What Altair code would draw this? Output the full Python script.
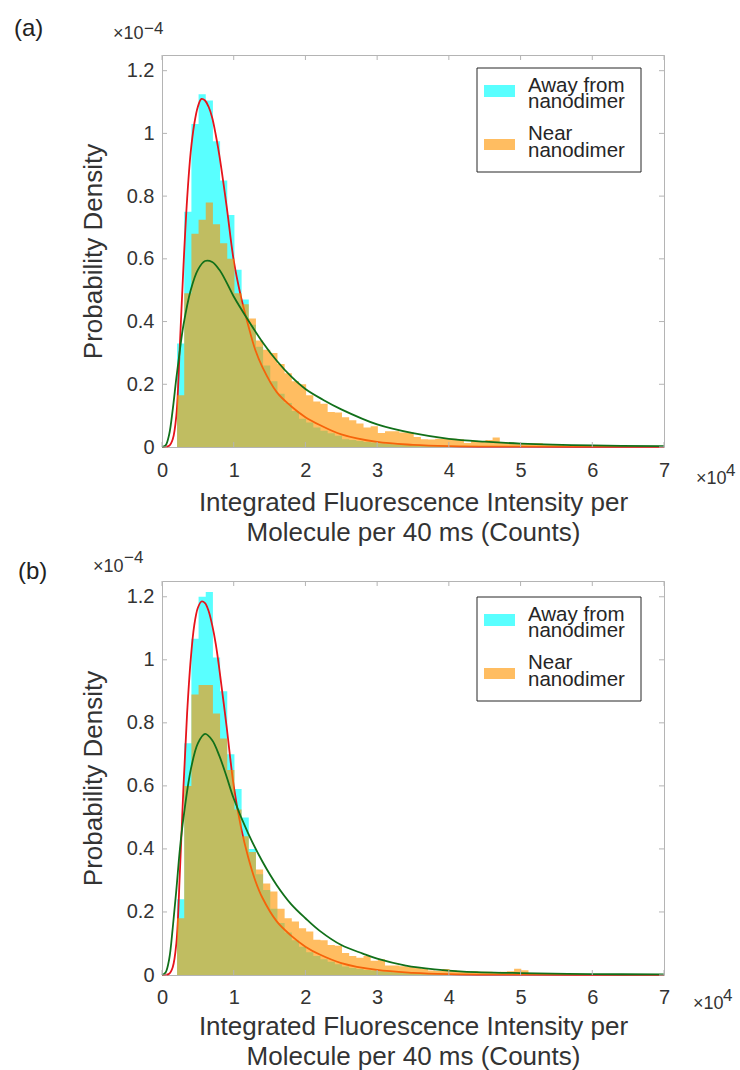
import altair as alt
import pandas as pd

FONT = "Liberation Sans"
TXT = "#333333"
BOX = "#b4b4b4"
CYAN = "#00FFFF"
ORANGE = "#FF9400"
RED = "#E6141B"
GREEN = "#11701A"

# ---------------- data (probability density in units of 1e-4) ----------------
bin_start = [2100 + 1000 * k for k in range(68)]   # histogram bin left edges (counts)
x_end = 70000

away_a = [0.33, 0.75, 1.03, 1.125, 1.105, 0.975, 0.85, 0.74, 0.565, 0.47,
          0.39, 0.32, 0.26, 0.21, 0.17, 0.14, 0.115, 0.09, 0.078, 0.062,
          0.052, 0.044, 0.036, 0.025, 0.022, 0.019, 0.016, 0.014, 0.012, 0.010,
          0.009, 0.008, 0.007, 0.006, 0.005, 0.005, 0.004, 0.004, 0.003, 0.003,
          0.003, 0.002, 0.002, 0.002, 0.002, 0.002, 0.001, 0.001, 0.001, 0.001,
          0.001, 0.001, 0.001, 0.001, 0.001, 0.001, 0.001, 0.001, 0.001, 0.001,
          0.0005, 0.0005, 0.0005, 0.0005, 0.0005, 0.0005, 0.0005, 0.0005]
near_a = [0.165, 0.49, 0.68, 0.725, 0.78, 0.71, 0.65, 0.60, 0.49, 0.455,
          0.41, 0.34, 0.31, 0.30, 0.265, 0.235, 0.21, 0.20, 0.165, 0.145,
          0.138, 0.112, 0.11, 0.095, 0.085, 0.075, 0.062, 0.066, 0.045, 0.05,
          0.05, 0.046, 0.046, 0.032, 0.025, 0.024, 0.026, 0.026, 0.026, 0.025,
          0.013, 0.02, 0.018, 0.022, 0.03, 0.014, 0.014, 0.013, 0.013, 0.012,
          0.012, 0.008, 0.006, 0.006, 0.005, 0.006, 0.005, 0.004, 0.004, 0.004,
          0.003, 0.004, 0.003, 0.003, 0.002, 0.003, 0.002, 0.002]
away_b = [0.24, 0.735, 1.067, 1.20, 1.215, 1.007, 0.90, 0.70, 0.59, 0.50,
          0.40, 0.32, 0.27, 0.21, 0.165, 0.135, 0.11, 0.09, 0.072, 0.06,
          0.05, 0.042, 0.034, 0.027, 0.022, 0.019, 0.016, 0.014, 0.012, 0.010,
          0.009, 0.008, 0.007, 0.006, 0.005, 0.005, 0.004, 0.004, 0.003, 0.003,
          0.003, 0.002, 0.002, 0.002, 0.002, 0.002, 0.001, 0.001, 0.001, 0.001,
          0.001, 0.001, 0.001, 0.001, 0.001, 0.001, 0.001, 0.001, 0.001, 0.001,
          0.0005, 0.0005, 0.0005, 0.0005, 0.0005, 0.0005, 0.0005, 0.0005]
near_b = [0.18, 0.60, 0.89, 0.92, 0.92, 0.83, 0.75, 0.65, 0.525, 0.44,
          0.39, 0.335, 0.29, 0.265, 0.21, 0.18, 0.17, 0.148, 0.138, 0.112,
          0.11, 0.095, 0.093, 0.07, 0.06, 0.055, 0.06, 0.045, 0.05, 0.03,
          0.03, 0.028, 0.025, 0.024, 0.02, 0.014, 0.013, 0.019, 0.015, 0.012,
          0.01, 0.012, 0.01, 0.01, 0.008, 0.01, 0.012, 0.02, 0.015, 0.006,
          0.005, 0.005, 0.004, 0.004, 0.003, 0.004, 0.003, 0.003, 0.003, 0.002,
          0.002, 0.003, 0.002, 0.002, 0.002, 0.002, 0.001, 0.002]

fit_x_red = [0, 1000, 1500, 2000, 2500, 3000, 3500, 4000, 4500, 5000, 5500, 6000,
             6500, 7000, 7500, 8000, 9000, 10000, 11000, 12000, 13000, 14000, 16000,
             18000, 20000, 22000, 25000, 30000, 35000, 40000, 50000, 60000, 70000]
red_a = [0, 0.004, 0.025, 0.10, 0.33, 0.58, 0.79, 0.94, 1.03, 1.085, 1.11, 1.105,
         1.085, 1.05, 0.995, 0.93, 0.77, 0.595, 0.48, 0.39, 0.31, 0.255, 0.175,
         0.13, 0.095, 0.07, 0.04, 0.016, 0.007, 0.003, 0.001, 0.0004, 0.0002]
red_b = [0, 0.004, 0.025, 0.10, 0.33, 0.60, 0.83, 1.0, 1.11, 1.165, 1.185, 1.18,
         1.155, 1.11, 1.05, 0.97, 0.79, 0.60, 0.47, 0.375, 0.30, 0.245, 0.17,
         0.125, 0.09, 0.065, 0.038, 0.016, 0.007, 0.003, 0.001, 0.0004, 0.0002]

fit_x_green_a = [0, 500, 1000, 1500, 2000, 2500, 3000, 4000, 5000, 6000, 7000, 8000,
                 9000, 10000, 12000, 14000, 16000, 18000, 20000, 22500, 25000, 30000,
                 35000, 40000, 45000, 50000, 60000, 70000]
green_a = [0, 0.005, 0.04, 0.12, 0.22, 0.31, 0.39, 0.50, 0.565, 0.593, 0.59, 0.565,
           0.525, 0.48, 0.405, 0.335, 0.275, 0.225, 0.185, 0.15, 0.12, 0.072,
           0.044, 0.026, 0.017, 0.011, 0.005, 0.003]
fit_x_green_b = [0, 500, 1000, 1500, 2000, 2500, 3000, 4000, 5000, 6000, 7000, 8000,
                 9000, 10000, 12000, 14000, 16000, 18000, 20000, 22000, 25000, 28000,
                 30000, 34000, 38000, 42000, 50000, 60000, 70000]
green_b = [0, 0.008, 0.05, 0.15, 0.27, 0.40, 0.50, 0.65, 0.735, 0.765, 0.745, 0.695,
           0.63, 0.56, 0.45, 0.36, 0.285, 0.225, 0.18, 0.14, 0.095, 0.068, 0.052,
           0.03, 0.018, 0.011, 0.006, 0.003, 0.002]

x_ticks = [0, 10000, 20000, 30000, 40000, 50000, 60000, 70000]
y_ticks = [0, 0.2, 0.4, 0.6, 0.8, 1.0, 1.2]
x_title = ["Integrated Fluorescence Intensity per", "Molecule per 40 ms (Counts)"]
y_title = "Probability Density"
legend_away = ["Away from", "nanodimer"]
legend_near = ["Near", "nanodimer"]

W = 502
ONE = alt.Data(values=[{"k": 1}])


def txt(text, x, y, size, align="left", baseline="alphabetic", color=TXT, lh=None):
    kw = dict(text=text, align=align, baseline=baseline, fontSize=size, font=FONT, color=color)
    if lh is not None:
        kw["lineHeight"] = lh
    return alt.Chart(ONE).mark_text(**kw).encode(x=alt.value(x), y=alt.value(y))


def box(x1, x2, y1, y2, **kw):
    return alt.Chart(ONE).mark_rect(**kw).encode(
        x=alt.value(x1), x2=alt.value(x2), y=alt.value(y1), y2=alt.value(y2))


def panel(tag, away, near, red, gx, green, h, lay):
    xs = alt.Scale(domain=[0, 70000], nice=False, zero=False)
    ys = alt.Scale(domain=[0, 1.25], nice=False)
    hx = bin_start + [x_end]
    cyan_df = pd.DataFrame({"x": hx, "v": away + [away[-1]]})
    orng_df = pd.DataFrame({"x": hx, "v": near + [near[-1]]})
    red_df = pd.DataFrame({"x": fit_x_red, "v": red})
    grn_df = pd.DataFrame({"x": gx, "v": green})

    xaxis = alt.Axis(values=x_ticks, labelExpr="datum.value / 10000", title=x_title,
                     grid=False, ticks=False, domain=False, labelFontSize=20,
                     labelFont=FONT, labelColor=TXT, labelPadding=lay["lp"],
                     labelBaseline="middle", labelFlush=False, labelOverlap=False,
                     titleFont=FONT, titleFontSize=26, titleFontWeight="normal",
                     titleColor=TXT, titleLineHeight=lay["lh"], titleBaseline="top",
                     titleAlign="center", titleX=W / 2, titleY=lay["ty"])
    yaxis = alt.Axis(values=y_ticks, format="~g", title=y_title, grid=False,
                     ticks=False, domain=False, labelFontSize=20, labelFont=FONT,
                     labelColor=TXT, labelPadding=8, labelOverlap=False,
                     titleFont=FONT, titleFontSize=26, titleFontWeight="normal",
                     titleColor=TXT, titleAngle=270, titleBaseline="bottom",
                     titleAlign="center", titleX=-56, titleY=h / 2)

    X = alt.X("x:Q", scale=xs, axis=xaxis)
    Y = alt.Y("v:Q", scale=ys, axis=yaxis, stack=None)

    cyan = alt.Chart(cyan_df).mark_area(interpolate="step-after", color=CYAN, opacity=0.65).encode(x=X, y=Y)
    redl = alt.Chart(red_df).mark_line(color=RED, strokeWidth=1.8, interpolate="catmull-rom").encode(x=X, y=Y)
    orng = alt.Chart(orng_df).mark_area(interpolate="step-after", color=ORANGE, opacity=0.62).encode(x=X, y=Y)
    grnl = alt.Chart(grn_df).mark_line(color=GREEN, strokeWidth=1.8, interpolate="catmull-rom").encode(x=X, y=Y)

    yt = pd.DataFrame({"v": y_ticks})
    xt = pd.DataFrame({"x": x_ticks})
    tl = alt.Chart(yt).mark_rule(color=BOX).encode(y=Y, x=alt.value(0), x2=alt.value(5))
    tr = alt.Chart(yt).mark_rule(color=BOX).encode(y=Y, x=alt.value(W - 5), x2=alt.value(W))
    tt = alt.Chart(xt).mark_rule(color=BOX).encode(x=X, y=alt.value(0), y2=alt.value(5))
    tb = alt.Chart(xt).mark_rule(color=BOX).encode(x=X, y=alt.value(h - 5), y2=alt.value(h))

    o = lay["lo"]
    leg = [
        box(315, 479, 13 + o, 117 + o, fill="white", stroke="#262626", strokeWidth=1),
        box(322, 353, 30 + o, 42 + o, fill=CYAN, opacity=0.65),
        box(322, 353, 84 + o, 95 + o, fill=ORANGE, opacity=0.62),
        txt(legend_away, 366, 30.5 + o, 20.5, baseline="middle", color="#262626", lh=16.5),
        txt(legend_near, 366, 78.5 + o, 20.5, baseline="middle", color="#262626", lh=17),
    ]
    ann = [
        txt(tag, lay["tagx"], lay["tagy"], 24, baseline="top", color="#222222"),
        txt("\u00d710", lay["ex"], lay["ey"], 18),
        txt("\u22124", lay["ex"] + 31, lay["ey"] - lay["up"], 17),
        txt("\u00d710", lay["fx"], h + lay["fy"], 18),
        txt("4", lay["fx"] + 30, h + lay["fy"] - 8, 17),
    ]
    return alt.layer(cyan, redl, orng, grnl, tl, tr, tt, tb, *leg, *ann).properties(width=W, height=h)


pa = panel("(a)", away_a, near_a, red_a, fit_x_green_a, green_a, 392,
           dict(lp=23, lh=30, ty=42.5, lo=0, tagx=-148, tagy=-37.8,
                ex=-49, ey=-16, up=5, fx=534, fy=37))
pb = panel("(b)", away_b, near_b, red_b, fit_x_green_b, green_b, 394,
           dict(lp=22, lh=30, ty=38.5, lo=3, tagx=-144, tagy=-20.8,
                ex=-69, ey=-9, up=9, fx=531, fy=34))

chart = alt.vconcat(pa, pb, spacing=134, bounds="flush").properties(
    padding={"left": 13, "top": 16, "right": 0, "bottom": 0}
).configure_view(stroke=BOX, strokeWidth=1)

chart.save("out.html", embed_options={"renderer": "svg", "actions": False})
